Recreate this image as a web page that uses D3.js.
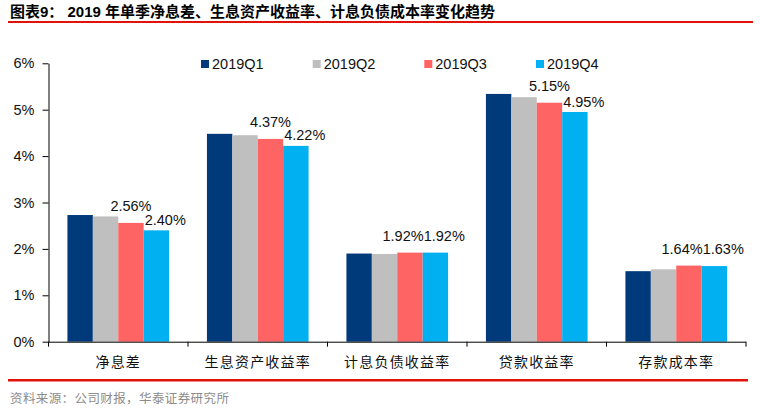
<!DOCTYPE html>
<html>
<head>
<meta charset="utf-8">
<script src="https://cdn.jsdelivr.net/npm/d3@7"></script>
<style>
  html, body { margin: 0; padding: 0; background: #fff; }
  svg { display: block; }
</style>
</head>
<body>
<svg id="chart" width="760" height="409"></svg>
<script>
const title = "图表9：  2019 年单季净息差、生息资产收益率、计息负债成本率变化趋势";
const source = "资料来源：公司财报，华泰证券研究所";
const categories = ["净息差", "生息资产收益率", "计息负债收益率", "贷款收益率", "存款成本率"];
const seriesNames = ["2019Q1", "2019Q2", "2019Q3", "2019Q4"];
const q1 = [2.73, 4.48, 1.90, 5.34, 1.52];
const q2 = [2.70, 4.45, 1.89, 5.27, 1.56];
const q3 = [2.56, 4.37, 1.92, 5.15, 1.64];
const q4 = [2.40, 4.22, 1.92, 4.95, 1.63];
const yTicks = [0, 1, 2, 3, 4, 5, 6];
const labelledSeries = ["2019Q3", "2019Q4"];
const colors = ["#003A7A", "#BFBFBF", "#FF6464", "#00B0F0"];

const seriesValues = [q1, q2, q3, q4];
const svg = d3.select("#chart");
const latin = "'Liberation Sans', Arial, sans-serif";
const cjk = "'Noto Sans CJK SC', sans-serif";

// title + red rules
svg.append("text").attr("x", 10).attr("y", 16.5)
  .attr("font-family", "'Liberation Sans', 'Noto Sans CJK SC', sans-serif")
  .attr("font-weight", "bold").attr("font-size", 15).attr("fill", "#000")
  .text(title);
svg.append("rect").attr("x", 8).attr("y", 21).attr("width", 745).attr("height", 2).attr("fill", "#E0120A");
svg.append("rect").attr("x", 8).attr("y", 379).attr("width", 740).attr("height", 2.5).attr("fill", "#E0120A");
svg.append("text").attr("x", 10).attr("y", 403)
  .attr("font-family", cjk).attr("font-size", 12.5).attr("fill", "#8C8C8C")
  .attr("letter-spacing", 0.4)
  .text(source);

const x0 = d3.scaleBand().domain(categories).range([48.5, 746]).paddingInner(0).paddingOuter(0);
const x1 = d3.scaleBand().domain(seriesNames).range([0, x0.bandwidth()]).paddingInner(0).paddingOuter(0.745);
const y = d3.scaleLinear().domain([0, 6]).range([341.7, 63.3]);

// y axis
const yAxis = svg.append("g").attr("transform", "translate(48.5,0)")
  .call(d3.axisLeft(y).tickValues(yTicks).tickSize(6).tickSizeOuter(0).tickPadding(8).tickFormat(d => d + "%"));
yAxis.selectAll("path, line").attr("stroke", "#000").attr("stroke-width", 1);
yAxis.selectAll("text").attr("font-family", latin).attr("font-size", 14.5).attr("fill", "#111");

// bars
const groups = svg.append("g").selectAll("g").data(categories).join("g")
  .attr("transform", d => `translate(${x0(d)},0)`);
seriesNames.forEach((s, si) => {
  groups.append("rect")
    .attr("x", x1(s))
    .attr("width", x1.bandwidth())
    .attr("y", (d, i) => y(seriesValues[si][i]))
    .attr("height", (d, i) => y(0) - y(seriesValues[si][i]))
    .attr("fill", colors[si]);
});

// x axis
const xAxis = svg.append("g").attr("transform", `translate(0,${y(0)})`);
xAxis.append("line").attr("x1", 48.5).attr("x2", 746).attr("y1", 0.5).attr("y2", 0.5).attr("stroke", "#000");
const boundaries = categories.map(c => x0(c)).concat([x0(categories[categories.length - 1]) + x0.bandwidth()]);
xAxis.selectAll("line.tick").data(boundaries).join("line").attr("class", "tick")
  .attr("x1", d => d).attr("x2", d => d).attr("y1", 0).attr("y2", 5).attr("stroke", "#000");
xAxis.selectAll("text").data(categories).join("text")
  .attr("x", d => x0(d) + x0.bandwidth() / 2)
  .attr("y", 25)
  .attr("text-anchor", "middle")
  .attr("font-family", cjk).attr("font-size", 14).attr("letter-spacing", 1.2).attr("fill", "#111")
  .text(d => d);

// data labels (Q3 and Q4)
const labelLayer = svg.append("g").attr("font-family", latin).attr("font-size", 14.5).attr("fill", "#111");
categories.forEach((c, i) => {
  const i3 = seriesNames.indexOf(labelledSeries[0]);
  const i4 = seriesNames.indexOf(labelledSeries[1]);
  const v3 = seriesValues[i3][i], v4 = seriesValues[i4][i];
  const bx3 = x0(c) + x1(labelledSeries[0]);
  const bx4 = x0(c) + x1(labelledSeries[1]);
  let y3 = y(v3) - 11.5;
  let y4 = y(v4) - 5.5;
  const t3 = labelLayer.append("text").text(v3.toFixed(2) + "%");
  const t4 = labelLayer.append("text").text(v4.toFixed(2) + "%");
  const w3 = t3.node().getComputedTextLength();
  const start4 = bx4 + 1;
  let cx3 = bx3 + x1.bandwidth() / 2;
  if (y4 - y3 < 9) {
    y4 = y3;
    if (cx3 + w3 / 2 > start4) cx3 = start4 - w3 / 2;
  }
  t3.attr("x", cx3).attr("y", y3).attr("text-anchor", "middle");
  t4.attr("x", start4).attr("y", y4).attr("text-anchor", "start");
});

// legend
const legendX = [201, 312.7, 424.3, 536];
const legend = svg.append("g");
seriesNames.forEach((s, si) => {
  legend.append("rect").attr("x", legendX[si]).attr("y", 60).attr("width", 8).attr("height", 8).attr("fill", colors[si]);
  legend.append("text").attr("x", legendX[si] + 11).attr("y", 68.5)
    .attr("font-family", latin).attr("font-size", 14.5).attr("fill", "#111").text(s);
});
</script>
</body>
</html>
